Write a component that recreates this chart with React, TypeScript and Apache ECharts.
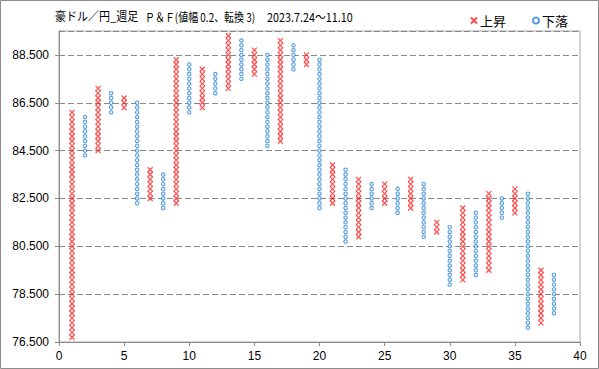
import React, { useEffect, useRef } from "react";
import * as echarts from "echarts";

const colIndex = [1, 2, 3, 4, 5, 6, 7, 8, 9, 10, 11, 12, 13, 14, 15, 16, 17, 18, 19, 20, 21, 22, 23, 24, 25, 26, 27, 28, 29, 30, 31, 32, 33, 34, 35, 36, 37, 38];
const colType = ["X", "O", "X", "O", "X", "O", "X", "O", "X", "O", "X", "O", "X", "O", "X", "O", "X", "O", "X", "O", "X", "O", "X", "O", "X", "O", "X", "O", "X", "O", "X", "O", "X", "O", "X", "O", "X", "O"];
const colLow = [76.7, 84.3, 84.5, 86.1, 86.3, 82.3, 82.5, 82.1, 82.3, 86.1, 86.3, 86.9, 87.1, 87.5, 87.7, 84.7, 84.9, 87.9, 88.1, 82.1, 82.3, 80.7, 80.9, 82.1, 82.3, 81.9, 82.1, 80.9, 81.1, 78.9, 79.1, 79.3, 79.5, 81.7, 81.9, 77.1, 77.3, 77.7];
const colHigh = [86.1, 85.9, 87.1, 86.9, 86.7, 86.5, 83.7, 83.5, 88.3, 88.1, 87.9, 87.7, 89.3, 89.1, 88.7, 88.5, 89.1, 88.9, 88.5, 88.3, 83.9, 83.7, 83.3, 83.1, 83.1, 82.9, 83.3, 83.1, 81.5, 81.3, 82.1, 81.9, 82.7, 82.5, 82.9, 82.7, 79.5, 79.3];
const boxSize = 0.2;
const seriesNames = ["上昇", "下落"];
const titleParts = ["豪ドル／円_週足", "Ｐ＆Ｆ(値幅 0.2、転換 3)", "2023.7.24～11.10"];

function buildBoxes(type: string): number[][] {
  const out: number[][] = [];
  colIndex.forEach((c, i) => {
    if (colType[i] !== type) return;
    const n = Math.round((colHigh[i] - colLow[i]) / boxSize);
    for (let k = 0; k <= n; k++) {
      out.push([c, Math.round((colLow[i] + k * boxSize) * 10) / 10]);
    }
  });
  return out;
}

export default function App() {
  const ref = useRef<HTMLDivElement>(null);
  useEffect(() => {
    document.body.style.margin = "0";
    const chart = echarts.init(ref.current!, null, { renderer: "svg" });
    const jp = "'Noto Sans CJK JP', sans-serif";
    const num = "'Liberation Sans', Arial, sans-serif";
    chart.setOption({
      animation: false,
      backgroundColor: "#ffffff",
      grid: {
        left: 59,
        right: 19,
        top: 31,
        bottom: 27,
        show: true,
        borderColor: "#a6a6a6",
        borderWidth: 1,
        backgroundColor: "transparent",
      },
      legend: {
        left: 465,
        top: 9,
        itemWidth: 6,
        itemHeight: 6,
        itemGap: 26,
        data: seriesNames,
        textStyle: { fontFamily: jp, fontSize: 13, color: "#000", padding: [0, 0, 0, -2] },
      },
      graphic: [
        {
          type: "rect",
          shape: { x: 0.5, y: 0.5, width: 598, height: 368 },
          style: { fill: "none", stroke: "#8c8c8c", lineWidth: 1 },
          silent: true,
        },
        { type: "text", x: 55, y: 10, scaleX: 0.92, style: { text: titleParts[0], font: `12px ${jp}`, fill: "#000" } },
        { type: "text", x: 145, y: 11, scaleX: 0.83, style: { text: titleParts[1], font: `12px ${jp}`, fill: "#000" } },
        { type: "text", x: 267, y: 11, scaleX: 0.9, style: { text: titleParts[2], font: `12px ${jp}`, fill: "#000" } },
      ],
      xAxis: {
        type: "value",
        min: 0,
        max: 40,
        interval: 5,
        axisLine: { show: true, lineStyle: { color: "#8c8c8c" } },
        axisTick: { show: true, length: 4, lineStyle: { color: "#8c8c8c" } },
        axisLabel: { color: "#000", fontSize: 12, fontFamily: num, margin: 8 },
        splitLine: { show: false },
      },
      yAxis: {
        type: "value",
        min: 76.5,
        max: 89.5,
        interval: 2,
        axisLine: { show: true, lineStyle: { color: "#8c8c8c" } },
        axisTick: { show: true, length: 4, lineStyle: { color: "#8c8c8c" } },
        axisLabel: {
          color: "#000",
          fontSize: 12,
          fontFamily: num,
          margin: 10,
          showMaxLabel: false,
          formatter: (v: number) => v.toFixed(3),
        },
        splitLine: { show: true, lineStyle: { color: "#888888", type: [6, 3], width: 1 } },
      },
      series: [
        {
          name: seriesNames[0],
          type: "scatter",
          symbol: "path://M0,0L10,10M10,0L0,10",
          symbolSize: 5,
          itemStyle: { color: "rgba(0,0,0,0)", borderColor: "#ff1f1f", borderWidth: 1.2 },
          data: buildBoxes("X"),
          z: 3,
        },
        {
          name: seriesNames[1],
          type: "scatter",
          symbol: "circle",
          symbolSize: 3.4,
          itemStyle: { color: "#ffffff", borderColor: "#2a84d8", borderWidth: 1.1 },
          data: buildBoxes("O"),
          z: 3,
        },
      ],
    });
    return () => chart.dispose();
  }, []);
  return <div ref={ref} style={{ width: 599, height: 369 }} />;
}
